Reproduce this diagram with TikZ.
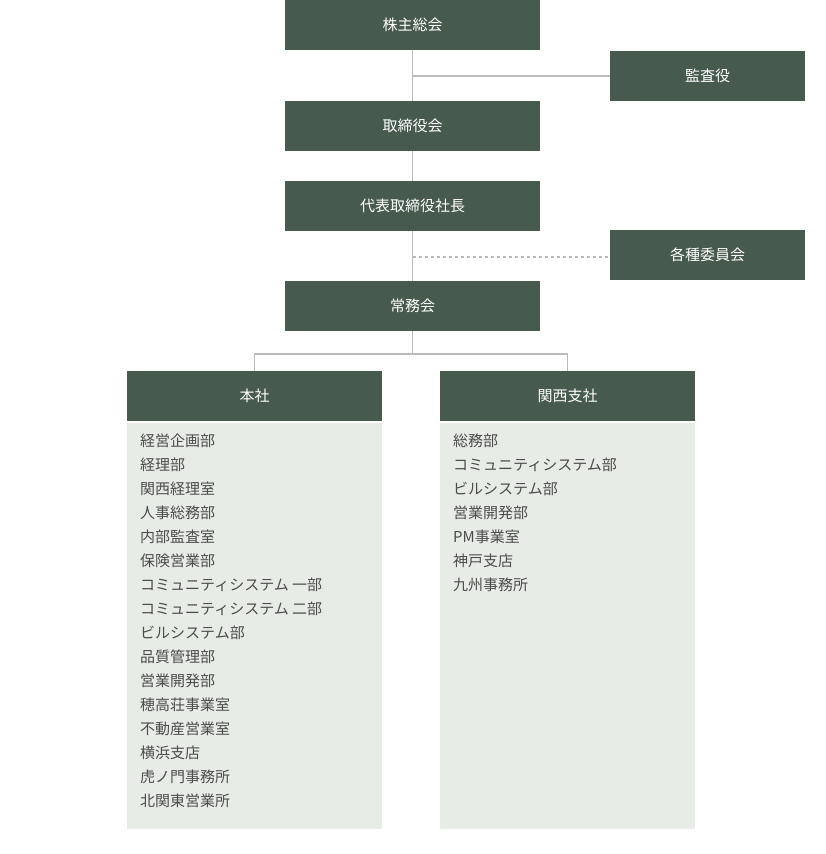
\documentclass[tikz,border=0pt]{standalone}
\usepackage{fontspec}
\setmainfont{Noto Sans CJK JP}
\usetikzlibrary{positioning}
\definecolor{boxgreen}{HTML}{475A4E}
\definecolor{panelgreen}{HTML}{E7ECE6}
\definecolor{linegray}{HTML}{BBBBBB}
\tikzset{
	orgbox/.style={fill=boxgreen,text=white,minimum width=255pt,minimum height=50pt,inner sep=0pt,font=\fontsize{15}{18}\selectfont},
	sidebox/.style={orgbox,minimum width=195pt},
	link/.style={draw=linegray,line width=1.2pt},
	listtext/.style={anchor=north west,align=left,inner sep=0pt,text=black!70,font=\fontsize{15}{24}\selectfont}
}
\begin{document}
\begin{tikzpicture}[x=1pt,y=-1pt]
	\useasboundingbox (0,0) rectangle (825,854);
	% panels
	\fill[panelgreen] (127,423) rectangle (382,829);
	\fill[panelgreen] (440,423) rectangle (695,829);
	% boxes
	\node[orgbox] (Kabunushi) at (412.5,25) {株主総会};
	\node[sidebox] (Kansa) at (707.5,76) {監査役};
	\node[orgbox] (Torishimari) at (412.5,126) {取締役会};
	\node[orgbox] (Shacho) at (412.5,206) {代表取締役社長};
	\node[sidebox] (Iinkai) at (707.5,255) {各種委員会};
	\node[orgbox] (Jomu) at (412.5,306) {常務会};
	\node[orgbox] (Honsha) at (254.5,396) {本社};
	\node[orgbox] (Kansai) at (567.5,396) {関西支社};
	\coordinate (KansaJoin) at (412.5,76);
	\coordinate (IinkaiJoin) at (412.5,257);
	\coordinate (Branch) at (412.5,354);
	% connectors
	\draw[link] (Kabunushi) -- (Torishimari);
	\draw[link] (KansaJoin) -- (Kansa);
	\draw[link] (Torishimari) -- (Shacho);
	\draw[link] (Shacho) -- (Jomu);
	\draw[link,dashed] (IinkaiJoin) -- (Iinkai.west |- IinkaiJoin);
	\draw[link] (Jomu) -- (Branch) -| (Honsha);
	\draw[link] (Branch) -| (Kansai);
	% lists
	\node[listtext] (HonshaList) at (140,434) {経営企画部\\経理部\\関西経理室\\人事総務部\\内部監査室\\保険営業部\\コミュニティシステム 一部\\コミュニティシステム 二部\\ビルシステム部\\品質管理部\\営業開発部\\穂高荘事業室\\不動産営業室\\横浜支店\\虎ノ門事務所\\北関東営業所};
	\node[listtext] (KansaiList) at (453,434) {総務部\\コミュニティシステム部\\ビルシステム部\\営業開発部\\PM事業室\\神戸支店\\九州事務所};
\end{tikzpicture}
\end{document}
